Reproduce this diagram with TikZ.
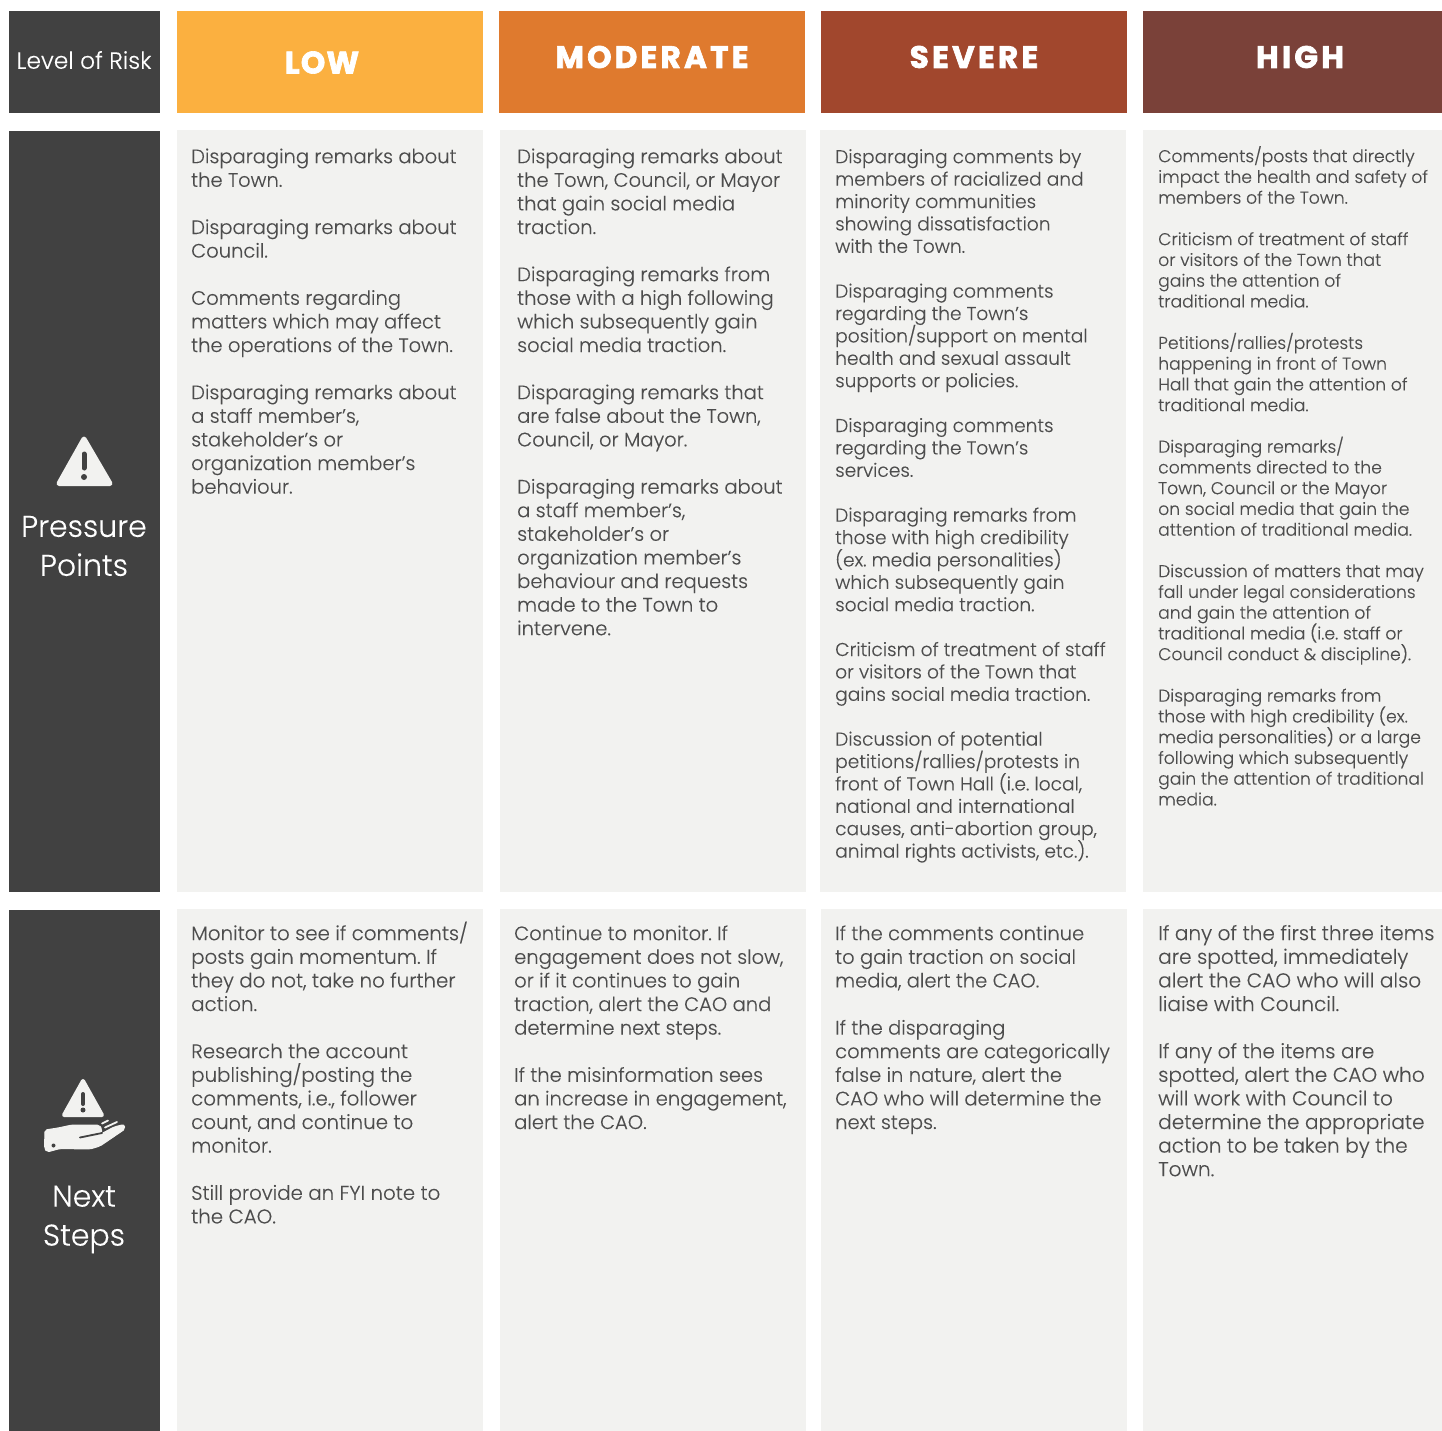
\documentclass[tikz,border=0pt]{standalone}
\usepackage{fontspec}
\setmainfont[Ligatures=NoCommon,FakeBold=0.2,AutoFakeBold=0.2]{Poppins Light}
\newfontfamily\headfont[LetterSpace=10.5,FakeBold=2.2]{Poppins Bold}
\newfontfamily\lowfont[LetterSpace=4,FakeBold=2.2]{Poppins Bold}
\frenchspacing
\lineskiplimit=-100pt
\lineskip=0pt
\definecolor{dark}{HTML}{414141}
\definecolor{cellbg}{HTML}{F2F2F0}
\definecolor{txt}{HTML}{4D4D4D}
\definecolor{clow}{HTML}{FBB040}
\definecolor{cmod}{HTML}{DF7A2E}
\definecolor{csev}{HTML}{A1472D}
\definecolor{chigh}{HTML}{7A4139}
\tikzset{
  x=1pt,y=-1pt,
  block/.style={anchor=north west,inner sep=0pt,outer sep=0pt,minimum width=#1},
  body/.style={anchor=north west,inner sep=0pt,align=left,text=txt},
  side/.style={anchor=center,inner sep=0pt,align=center,text=white},
  headt/.style={anchor=center,inner sep=0pt,text=white,font=\headfont\fontsize{31}{34}\selectfont},
  iconfill/.style={fill=cellbg,draw=cellbg,line join=round},
}
\newcommand{\cellbox}[6]{% name x y w h colour
  \node[block=#4pt,minimum height=#5pt,fill=#6] (#1) at (#2,#3) {};}
\newcommand{\fa}{\fontsize{19.5}{23.6}\selectfont\lineskiplimit=-100pt }
\newcommand{\fb}{\fontsize{18.6}{22.4}\selectfont\lineskiplimit=-100pt }
\newcommand{\fc}{\fontsize{17.2}{20.75}\selectfont\lineskiplimit=-100pt }
\newcommand{\fd}{\fontsize{19.8}{23.6}\selectfont\lineskiplimit=-100pt }
\newcommand{\fe}{\fontsize{20.1}{23.6}\selectfont\lineskiplimit=-100pt }
\newcommand{\fl}{\rule{0pt}{24pt}}
\begin{document}
\begin{tikzpicture}
\useasboundingbox (0,0) rectangle (1442,1431);
% header
\cellbox{h0}{9}{11}{151}{102}{dark}
\cellbox{h1}{177}{11}{306}{102}{clow}
\cellbox{h2}{499}{11}{306}{102}{cmod}
\cellbox{h3}{821}{11}{306}{102}{csev}
\cellbox{h4}{1143}{11}{299}{102}{chigh}
% row 1
\cellbox{a0}{9}{131}{151}{761}{dark}
\cellbox{a1}{177}{130}{306}{762}{cellbg}
\cellbox{a2}{500}{130}{306}{762}{cellbg}
\cellbox{a3}{820}{130}{306}{762}{cellbg}
\cellbox{a4}{1143}{130}{299}{762}{cellbg}
% row 2
\cellbox{b0}{9}{910}{151}{521}{dark}
\cellbox{b1}{177}{909}{306}{522}{cellbg}
\cellbox{b2}{500}{909}{306}{522}{cellbg}
\cellbox{b3}{821}{909}{306}{522}{cellbg}
\cellbox{b4}{1143}{909}{299}{522}{cellbg}
% header text
\node[side,font=\fontsize{23.4}{26}\selectfont] (tl) at (84,60) {Level of Risk};
\node[headt,font=\lowfont\fontsize{31}{34}\selectfont] (t1) at (322,62.5) {LOW};
\node[headt] (t2) at (652,57) {MODERATE};
\node[headt] (t3) at (974,57) {SEVERE};
\node[headt] (t4) at (1300,57) {HIGH};
% side labels
\node[side,font=\fontsize{30}{39}\selectfont] (pp) at (84,546) {Pressure\\Points};
\node[side,font=\fontsize{30}{39}\selectfont] (ns) at (84,1219.5) {Next\\Steps};
% icon 1
\path[iconfill,line width=5pt] (84,439) -- (59,483.5) -- (110,483.5) -- cycle;
\draw[dark,line width=5pt,line cap=round] (84,454) -- (84,468);
\fill[dark] (84,477) circle (3);
% icon 2
\path[iconfill,line width=4pt] (83,1081) -- (64,1115) -- (102,1115) -- cycle;
\draw[dark,line width=4pt,line cap=round] (83,1094) -- (83,1104);
\fill[dark] (83,1110) circle (2.5);
\path[iconfill,line width=1pt,rounded corners=2pt] (45,1130) -- (58,1128) -- (72,1125) -- (99,1125) -- (102,1129) -- (101,1134) -- (114,1127) -- (124,1124.5) -- (125,1129) -- (100,1146) -- (90,1149) -- (60,1148.5) -- (47,1152) -- (44.5,1148) -- cycle;
\draw[dark,line width=1.8pt,line cap=round] (80,1137.5) -- (102,1133);
\fill[dark] (53.5,1145.5) circle (2);
\draw[cellbg,line width=1.8pt,line cap=round] (102,1123.5) -- (108,1120.5);
\draw[cellbg,line width=1.8pt,line cap=round] (105,1127.5) -- (117,1122);
% row 1 text
\node[body,font=\fa] (a1t) at (191,139) {\fl Disparaging remarks about\\the Town.\\[23.6pt]Disparaging remarks about\\Council.\\[23.6pt]Comments regarding\\matters which may affect\\the operations of the Town.\\[23.6pt]Disparaging remarks about\\a staff member’s,\\stakeholder’s or\\organization member’s\\behaviour.};
\node[body,font=\fa] (a2t) at (517,139) {\fl Disparaging remarks about\\the Town, Council, or Mayor\\that gain social media\\traction.\\[23.6pt]Disparaging remarks from\\those with a high following\\which subsequently gain\\social media traction.\\[23.6pt]Disparaging remarks that\\are false about the Town,\\Council, or Mayor.\\[23.6pt]Disparaging remarks about\\a staff member’s,\\stakeholder’s or\\organization member’s\\behaviour and requests\\made to the Town to\\intervene.};
\node[body,font=\fb] (a3t) at (835,139) {\fl Disparaging comments by\\members of racialized and\\minority communities\\showing dissatisfaction\\with the Town.\\[22.4pt]Disparaging comments\\regarding the Town’s\\position/support on mental\\health and sexual assault\\supports or policies.\\[22.4pt]Disparaging comments\\regarding the Town’s\\services.\\[22.4pt]Disparaging remarks from\\those with high credibility\\(ex. media personalities)\\which subsequently gain\\social media traction.\\[22.4pt]Criticism of treatment of staff\\or visitors of the Town that\\gains social media traction.\\[22.4pt]Discussion of potential\\petitions/rallies/protests in\\front of Town Hall (i.e. local,\\national and international\\causes, anti-abortion group,\\animal rights activists, etc.).};
\node[body,font=\fc] (a4t) at (1158,138) {\fl Comments/posts that directly\\impact the health and safety of\\members of the Town.\\[20.75pt]Criticism of treatment of staff\\or visitors of the Town that\\gains the attention of\\traditional media.\\[20.75pt]Petitions/rallies/protests\\happening in front of Town\\Hall that gain the attention of\\traditional media.\\[20.75pt]Disparaging remarks/\\comments directed to the\\Town, Council or the Mayor\\on social media that gain the\\attention of traditional media.\\[20.75pt]Discussion of matters that may\\fall under legal considerations\\and gain the attention of\\traditional media (i.e. staff or\\Council conduct \& discipline).\\[20.75pt]Disparaging remarks from\\those with high credibility (ex.\\media personalities) or a large\\following which subsequently\\gain the attention of traditional\\media.};
% row 2 text
\node[body,font=\fd] (b1t) at (191,916) {\fl Monitor to see if comments/\\posts gain momentum. If\\they do not, take no further\\action.\\[23.6pt]Research the account\\publishing/posting the\\comments, i.e., follower\\count, and continue to\\monitor.\\[23.6pt]Still provide an FYI note to\\the CAO.};
\node[body,font=\fa] (b2t) at (514,916) {\fl Continue to monitor. If\\engagement does not slow,\\or if it continues to gain\\traction, alert the CAO and\\determine next steps.\\[23.6pt]If the misinformation sees\\an increase in engagement,\\alert the CAO.};
\node[body,font=\fa] (b3t) at (835,916) {\fl If the comments continue\\to gain traction on social\\media, alert the CAO.\\[23.6pt]If the disparaging\\comments are categorically\\false in nature, alert the\\CAO who will determine the\\next steps.};
\node[body,font=\fe] (b4t) at (1158,916) {\fl If any of the first three items\\are spotted, immediately\\alert the CAO who will also\\liaise with Council.\\[23.6pt]If any of the items are\\spotted, alert the CAO who\\will work with Council to\\determine the appropriate\\action to be taken by the\\Town.};
\end{tikzpicture}
\end{document}
